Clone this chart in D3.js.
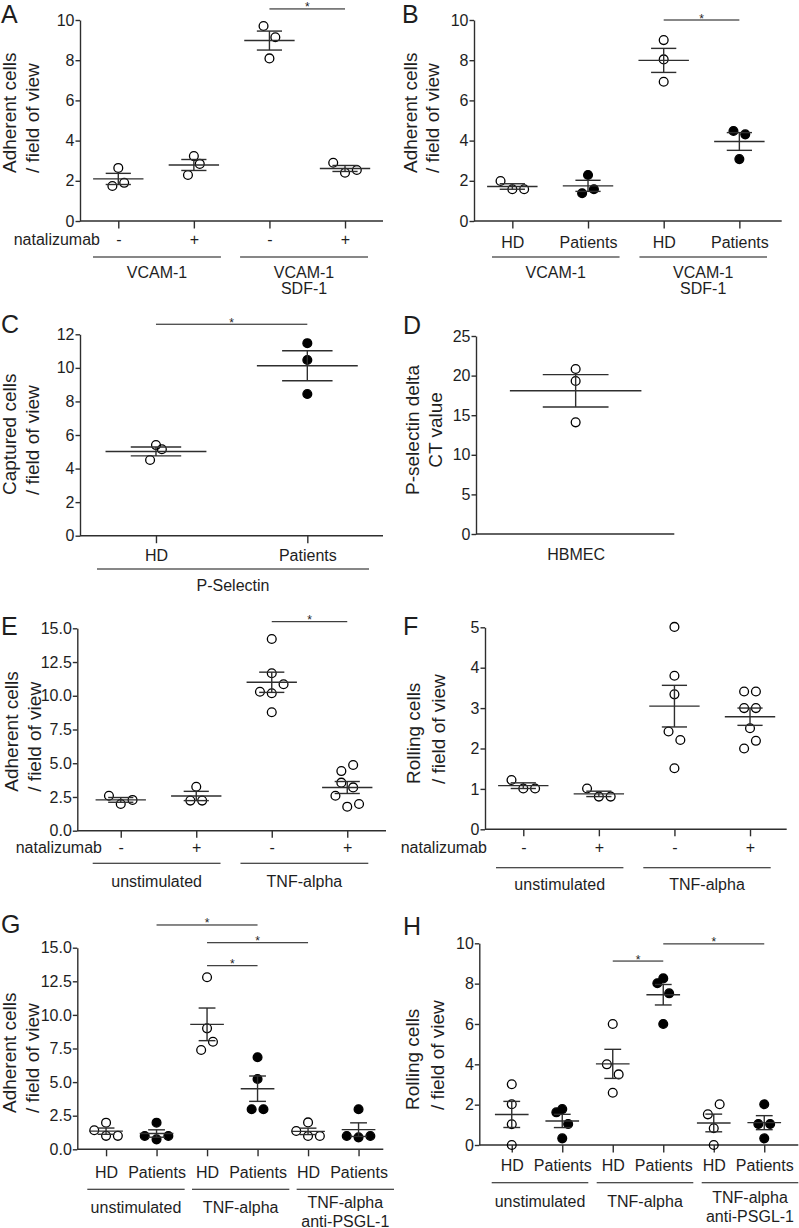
<!DOCTYPE html>
<html><head><meta charset="utf-8">
<script src="https://cdn.jsdelivr.net/npm/d3@7"></script>
<style>
html,body{margin:0;padding:0;background:#fff;}
svg{display:block;font-family:"Liberation Sans",Arial,Helvetica,sans-serif;}
</style></head><body>
<svg id="fig" width="799" height="1228"></svg>
<script>
// ---------------- DATA ----------------
// Panel A
const catsA = ["-", "+", "-", "+"];
const valsA = [[1.74, 2.64, 1.9], [2.29, 3.23, 2.84], [9.7, 9.14, 8.09], [2.9, 2.4, 2.54]];
const jitA = [[-1, 0, 1], [-1, 0, 1], [-1, 1, 0], [-2, 0, 2]];
const fillA = [false, false, false, false];
const groupsA = [["VCAM-1"], ["VCAM-1", "SDF-1"]];
const starsA = [[2, 3, 10.55]];
const ticksA = [0, 2, 4, 6, 8, 10];
// Panel B
const catsB = ["HD", "Patients", "HD", "Patients"];
const valsB = [[1.99, 1.58, 1.58], [1.38, 2.29, 1.58], [9.0, 8.04, 6.93], [4.48, 4.31, 3.08]];
const jitB = [[-2, 0, 2], [-1, 0, 1], [0, 0, 0], [-1, 1, 0]];
const fillB = [false, true, false, true];
const groupsB = [["VCAM-1"], ["VCAM-1", "SDF-1"]];
const starsB = [[2, 3, 10.0]];
const ticksB = [0, 2, 4, 6, 8, 10];
// Panel C
const catsC = ["HD", "Patients"];
const valsC = [[4.51, 5.4, 5.15], [11.47, 10.47, 8.44]];
const jitC = [[-1, 0, 1], [0, 0, 0]];
const fillC = [false, true];
const groupsC = [["P-Selectin"]];
const starsC = [[0, 1, 12.6]];
const ticksC = [0, 2, 4, 6, 8, 10, 12];
// Panel D
const catsD = ["HBMEC"];
const valsD = [[20.83, 19.32, 14.1]];
const jitD = [[0, 0, 0]];
const fillD = [false];
const ticksD = [0, 5, 10, 15, 20, 25];
// Panel E
const catsE = ["-", "+", "-", "+"];
const valsE = [[2.59, 1.98, 2.28], [2.23, 3.26, 2.23],
  [14.21, 11.67, 10.85, 10.3, 10.19, 8.78],
  [4.87, 4.42, 3.56, 3.21, 2.59, 1.98, 1.78]];
const jitE = [[-2, 0, 2], [-1, 0, 1], [0, 0, 2, -2, 0, 0], [1, -1, -1, 1, -2, 2, 0]];
const fillE = [false, false, false, false];
const groupsE = [["unstimulated"], ["TNF-alpha"]];
const starsE = [[2, 3, 15.49]];
const ticksE = [0, 2.5, 5, 7.5, 10, 12.5, 15];
// Panel F
const catsF = ["-", "+", "-", "+"];
const valsF = [[1.22, 1.01, 1.01], [1.01, 0.81, 0.81],
  [5.01, 3.8, 3.34, 2.42, 2.21, 1.51],
  [3.41, 3.41, 3.0, 3.0, 2.5, 2.0, 2.19]];
const jitF = [[-2, 0, 2], [-2, 0, 2], [0, 0, 0, -1, 1, 0], [-1, 1, -1, 1, 0, -1, 1]];
const fillF = [false, false, false, false];
const groupsF = [["unstimulated"], ["TNF-alpha"]];
const starsF = [];
const ticksF = [0, 1, 2, 3, 4, 5];
// Panel G
const catsG = ["HD", "Patients", "HD", "Patients", "HD", "Patients"];
const valsG = [[1.42, 1.98, 1.0, 1.0], [1.98, 0.99, 0.74, 0.99], [12.8, 9.0, 8.0, 7.39],
  [6.85, 5.23, 2.98, 2.98], [1.36, 2.0, 0.99, 0.99], [2.98, 0.99, 0.89, 0.99]];
const jitG = [[-2, 0, 0, 2], [0, -2, 0, 2], [0, 0, 1, -1], [0, 0, -1, 1], [-2, 0, 0, 2], [0, -2, 0, 2]];
const fillG = [false, true, false, true, false, true];
const groupsG = [["unstimulated"], ["TNF-alpha"], ["TNF-alpha", "anti-PSGL-1"]];
const starsG = [[1, 3, 16.69], [2, 4, 15.37], [2, 3, 13.66]];
const ticksG = [0, 2.5, 5, 7.5, 10, 12.5, 15];
// Panel H
const catsH = ["HD", "Patients", "HD", "Patients", "HD", "Patients"];
const valsH = [[3.01, 2.02, 1.03, 0], [1.62, 1.78, 1.04, 0.33], [6.0, 4.0, 3.5, 2.59],
  [8.02, 8.26, 7.52, 6.0], [1.52, 2.02, 0.83, 0], [2.02, 1.04, 1.04, 0.33]];
const jitH = [[0, 0, 0, 0], [-1, 0, 1, 0], [0, -1, 1, 0], [-1, 0, 1, 0], [-1, 1, 0, 0], [0, -1, 1, 0]];
const fillH = [false, true, false, true, false, true];
const groupsH = [["unstimulated"], ["TNF-alpha"], ["TNF-alpha", "anti-PSGL-1"]];
const starsH = [[2, 3, 9.12], [3, 5, 9.97]];
const ticksH = [0, 2, 4, 6, 8, 10];

// ---------------- DRAWING ----------------
const svg = d3.select("#fig");
const INK = "#1e1e1e";
const LINE = "#2e2e2e";
const fmtInt = d3.format("d"), fmt1 = d3.format(".1f");

function drawPanel(p) {
  const g = svg.append("g");
  const y = d3.scaleLinear().domain([0, p.yMax]).range([p.y0, p.y1]);
  const x = d3.scalePoint().domain(d3.range(p.cats.length)).range(p.band).padding(0.5);
  const step = x.step();
  const jit = d3.scaleLinear().domain([-1, 1]).range([-5.9, 5.9]);

  // panel letter
  g.append("text").attr("x", p.letter[1]).attr("y", p.letter[2])
    .attr("font-size", 25).attr("fill", INK).text(p.letter[0]);

  // y axis
  const ya = g.append("g").attr("transform", `translate(${p.ax},0)`)
    .call(d3.axisLeft(y).tickValues(p.ticks).tickFormat(p.fmt).tickSize(4.5).tickPadding(1).tickSizeOuter(0));
  ya.selectAll("text").attr("font-size", 16).attr("fill", INK)
    .attr("font-family", '"Liberation Sans", Arial, sans-serif');
  ya.selectAll("line,path").attr("stroke", LINE).attr("stroke-width", 1.4);

  // x axis
  const tl = p.xTick;
  const xa = g.append("g").attr("transform", `translate(0,${p.y0})`)
    .call(d3.axisBottom(x).tickFormat(i => p.cats[i]).tickSize(tl)
      .tickPadding(p.catY - p.y0 - tl - 11.4).tickSizeOuter(0));
  xa.select(".domain").remove();
  xa.selectAll("text").attr("font-size", 16).attr("fill", INK)
    .attr("font-family", '"Liberation Sans", Arial, sans-serif');
  xa.selectAll("line").attr("stroke", LINE).attr("stroke-width", 1.4);
  g.append("line").attr("x1", p.ax).attr("x2", p.axEnd).attr("y1", p.y0).attr("y2", p.y0)
    .attr("stroke", LINE).attr("stroke-width", 1.4);

  // row label
  if (p.rowLabel) {
    g.append("text").attr("x", p.rowLabel[1]).attr("y", p.catY).attr("text-anchor", "end")
      .attr("font-size", 16).attr("fill", INK).text(p.rowLabel[0]);
  }

  // y title
  p.title.forEach((t, i) => {
    g.append("text")
      .attr("transform", `translate(${p.titleX[i]},${p.titleY}) rotate(-90)`)
      .attr("text-anchor", p.titleAnchor).attr("font-size", 19).attr("fill", INK).text(t);
  });

  // points
  p.vals.forEach((vs, i) => {
    vs.forEach((v, j) => {
      g.append("circle").attr("cx", x(i) + jit(p.jit[i][j])).attr("cy", y(v)).attr("r", 4.4)
        .attr("fill", p.fill[i] ? "#000" : "none").attr("stroke", "#000").attr("stroke-width", 1.3);
    });
  });

  // mean +/- SEM
  p.vals.forEach((vs, i) => {
    const m = d3.mean(vs), s = d3.deviation(vs) / Math.sqrt(vs.length);
    const cx = x(i);
    const eb = g.append("g").attr("stroke", LINE).attr("stroke-width", 1.4);
    eb.append("line").attr("x1", cx - step / 3).attr("x2", cx + step / 3).attr("y1", y(m)).attr("y2", y(m));
    eb.append("line").attr("x1", cx - step / 6).attr("x2", cx + step / 6).attr("y1", y(m + s)).attr("y2", y(m + s));
    eb.append("line").attr("x1", cx - step / 6).attr("x2", cx + step / 6).attr("y1", y(m - s)).attr("y2", y(m - s));
    eb.append("line").attr("x1", cx).attr("x2", cx).attr("y1", y(m + s)).attr("y2", y(m - s));
  });

  // significance brackets
  (p.stars || []).forEach(([a, b, lvl]) => {
    g.append("line").attr("x1", x(a)).attr("x2", x(b)).attr("y1", y(lvl)).attr("y2", y(lvl))
      .attr("stroke", "#111").attr("stroke-width", 1);
    g.append("text").attr("x", (x(a) + x(b)) / 2).attr("y", y(lvl) + 2.5).attr("text-anchor", "middle")
      .attr("font-size", 12).attr("fill", INK).text("*");
  });

  // group underlines + labels
  if (p.groups) {
    const gs = d3.scaleBand().domain(d3.range(p.groups.length)).range(p.gRange)
      .paddingInner(p.gPad).paddingOuter(0);
    p.groups.forEach((lines, k) => {
      const x0 = gs(k), x1 = gs(k) + gs.bandwidth();
      g.append("line").attr("x1", x0).attr("x2", x1).attr("y1", p.gLineY).attr("y2", p.gLineY)
        .attr("stroke", "#111").attr("stroke-width", 1.1);
      lines.forEach((t, li) => {
        g.append("text").attr("x", (x0 + x1) / 2)
          .attr("y", p.gLabelY - (lines.length - 1) * p.gShift + li * p.gLH)
          .attr("text-anchor", "middle").attr("font-size", 16).attr("fill", INK).text(t);
      });
    });
  }
}

const ADH = ["Adherent cells", "/ field of view"];
const ROL = ["Rolling cells", "/ field of view"];

drawPanel({ letter: ["A", 1, 23], cats: catsA, vals: valsA, jit: jitA, fill: fillA, stars: starsA,
  groups: groupsA, ticks: ticksA, fmt: fmtInt, yMax: 10, y0: 221, y1: 20,
  ax: 80, axEnd: 383, band: [80.5, 382.8], xTick: 7.5, catY: 245, rowLabel: ["natalizumab", 100],
  title: ADH, titleX: [16, 39], titleY: 173, titleAnchor: "start",
  gRange: [93, 368], gPad: 0.13, gLineY: 257, gLabelY: 278, gShift: 0, gLH: 16 });

drawPanel({ letter: ["B", 402, 23], cats: catsB, vals: valsB, jit: jitB, fill: fillB, stars: starsB,
  groups: groupsB, ticks: ticksB, fmt: fmtInt, yMax: 10, y0: 221, y1: 20,
  ax: 474, axEnd: 781.7, band: [474.5, 777.2], xTick: 7.5, catY: 248,
  title: ADH, titleX: [417, 439], titleY: 173, titleAnchor: "start",
  gRange: [492, 767], gPad: 0.135, gLineY: 257, gLabelY: 278, gShift: 0, gLH: 16 });

drawPanel({ letter: ["C", 1, 333], cats: catsC, vals: valsC, jit: jitC, fill: fillC, stars: starsC,
  groups: groupsC, ticks: ticksC, fmt: fmtInt, yMax: 12, y0: 535.7, y1: 334.3,
  ax: 80, axEnd: 383, band: [80.3, 383], xTick: 7.5, catY: 561,
  title: ["Captured cells", "/ field of view"], titleX: [16, 39], titleY: 495, titleAnchor: "start",
  gRange: [97, 369], gPad: 0, gLineY: 569, gLabelY: 591, gShift: 0, gLH: 16 });

drawPanel({ letter: ["D", 403, 334], cats: catsD, vals: valsD, jit: jitD, fill: fillD, stars: [],
  groups: null, ticks: ticksD, fmt: fmtInt, yMax: 25, y0: 534, y1: 336,
  ax: 476, axEnd: 674.3, band: [477, 674.3], xTick: 0, catY: 560,
  title: ["P-selectin delta", "CT value"], titleX: [419, 442], titleY: 430, titleAnchor: "middle" });

drawPanel({ letter: ["E", 1, 635], cats: catsE, vals: valsE, jit: jitE, fill: fillE, stars: starsE,
  groups: groupsE, ticks: ticksE, fmt: fmt1, yMax: 15, y0: 830.7, y1: 628.3,
  ax: 77.3, axEnd: 386, band: [83, 385], xTick: 7, catY: 853, rowLabel: ["natalizumab", 102],
  title: ADH, titleX: [18, 41], titleY: 791.7, titleAnchor: "start",
  gRange: [92.7, 368.3], gPad: 0.135, gLineY: 863.3, gLabelY: 887, gShift: 0, gLH: 16 });

drawPanel({ letter: ["F", 403, 635], cats: catsF, vals: valsF, jit: jitF, fill: fillF, stars: starsF,
  groups: groupsF, ticks: ticksF, fmt: fmtInt, yMax: 5, y0: 829.3, y1: 627.3,
  ax: 485, axEnd: 786.7, band: [485.5, 787.8], xTick: 7, catY: 853, rowLabel: ["natalizumab", 487],
  title: ROL, titleX: [420, 445], titleY: 784, titleAnchor: "start",
  gRange: [496, 770.7], gPad: 0.135, gLineY: 867.7, gLabelY: 890, gShift: 0, gLH: 16 });

drawPanel({ letter: ["G", 1, 933], cats: catsG, vals: valsG, jit: jitG, fill: fillG, stars: starsG,
  groups: groupsG, ticks: ticksG, fmt: fmt1, yMax: 15, y0: 1149.3, y1: 947.7,
  ax: 77.3, axEnd: 383.3, band: [80.8, 383.8], xTick: 7, catY: 1178,
  title: ADH, titleX: [16, 39], titleY: 1113, titleAnchor: "start",
  gRange: [87.3, 394], gPad: 0.07, gLineY: 1189.3, gLabelY: 1213, gShift: 5, gLH: 18.5 });

drawPanel({ letter: ["H", 403, 935], cats: catsH, vals: valsH, jit: jitH, fill: fillH, stars: starsH,
  groups: groupsH, ticks: ticksH, fmt: fmtInt, yMax: 10, y0: 1145, y1: 943.3,
  ax: 479.3, axEnd: 798.3, band: [486.5, 789.5], xTick: 7.5, catY: 1171,
  title: ROL, titleX: [419, 444], titleY: 1110, titleAnchor: "start",
  gRange: [491.7, 798.3], gPad: 0.08, gLineY: 1182.7, gLabelY: 1207, gShift: 4, gLH: 18.5 });
</script>
</body></html>
